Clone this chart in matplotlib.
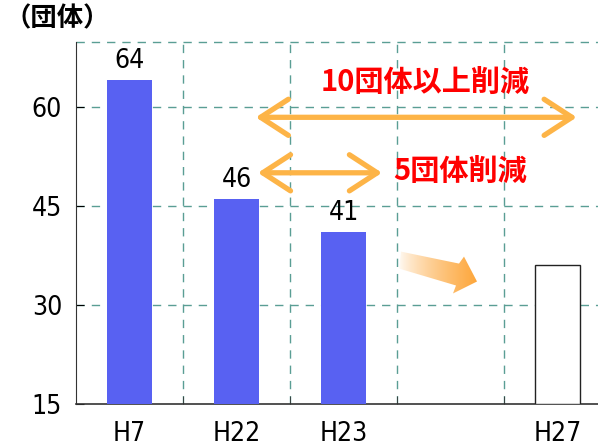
import numpy as np
import matplotlib
matplotlib.use("Agg")
import matplotlib.pyplot as plt
from matplotlib.patches import Polygon, FancyArrowPatch

plt.rcParams['font.family'] = ['DejaVu Sans']
plt.rcParams['font.stretch'] = 'condensed'

categories = ["H7", "H22", "H23", "", "H27"]
counts = [64, 46, 41, None, 36]
shown_labels = [64, 46, 41]
y_ticks = [15, 30, 45, 60]

grid_c = "#5a9e94"
bar_c = "#5861f2"
arrow_c = "#fdb447"

fig = plt.figure(figsize=(5.98, 4.48), dpi=100)
ax = fig.add_axes([76/598, 44/448, 535/598, 362/448])
ax.set_xlim(-0.5, 4.5)
ax.set_ylim(15, 69.8)

x = np.arange(len(categories))
for i, v in enumerate(counts):
    if v is None:
        continue
    if i < 3:
        ax.bar(i, v - 15, bottom=15, width=0.42, color=bar_c, zorder=3)
    else:
        ax.bar(i, v - 15, bottom=15, width=0.42, facecolor="white",
               edgecolor="#222222", linewidth=1.0, zorder=3)

for i, v in enumerate(shown_labels):
    ax.text(i, v + 0.9, str(v), ha="center", va="bottom", fontsize=19)

# grid
for b in np.arange(0.5, 4.5, 1.0):
    ax.axvline(b, color=grid_c, lw=1, ls=(0, (6, 5)), zorder=1)
for t in y_ticks[1:]:
    ax.axhline(t, color=grid_c, lw=1, ls=(0, (6, 5)), zorder=1)
ax.axhline(69.8, color=grid_c, lw=1, ls=(0, (6, 5)), zorder=1, clip_on=False)

for s in ["top", "right"]:
    ax.spines[s].set_visible(False)
ax.spines["left"].set_color("#333333")
ax.spines["bottom"].set_color("#333333")
ax.spines["bottom"].set_linewidth(1.2)

ax.set_yticks(y_ticks)
ax.set_yticklabels([str(t) for t in y_ticks], fontsize=19)
ax.tick_params(axis="y", direction="in", length=6, pad=10)
ax.set_xticks(x)
ax.set_xticklabels(categories, fontsize=19)
ax.tick_params(axis="x", length=0, pad=12)
ax.set_xticks(np.arange(0.5, 4.5, 1.0), minor=True)
ax.tick_params(axis="x", which="minor", direction="in", length=6, color="#333333")

fig.text(4/598, 1 - 19/448, "（団体）", fontsize=19, fontweight="bold",
         va="center", ha="left", family=["Noto Sans CJK JP"])

# double-headed arrows
def darrow(x0, x1, y):
    ax.add_patch(FancyArrowPatch((x0, y), (x1, y),
                                 arrowstyle="<->,head_length=1.0,head_width=0.65",
                                 color=arrow_c, lw=3.8, mutation_scale=20,
                                 shrinkA=0, shrinkB=0, zorder=4))

darrow(1.18, 4.18, 58.4)
darrow(1.20, 2.36, 50.0)

ax.text(2.76, 63.8, "10団体以上削減", color="#ff0000", fontsize=21, fontweight="bold",
        ha="center", va="center", family=["Noto Sans CJK JP"])
ax.text(3.09, 50.3, "5団体削減", color="#ff0000", fontsize=21, fontweight="bold",
        ha="center", va="center", family=["Noto Sans CJK JP"])

# gradient arrow pointing to projection
def px(p):
    return ((p[0] - 76) / 107 - 0.5, 15 + (404 - p[1]) / 6.633)

pts = [(401, 251), (459, 263), (464, 256), (477, 281), (453, 293), (456, 285), (399, 268)]
poly = Polygon([px(p) for p in pts], closed=True, facecolor="none", edgecolor="none")
ax.add_patch(poly)
grad = np.linspace(0, 1, 256) ** 0.7
grad = grad.reshape(1, -1)
cmap = matplotlib.colors.LinearSegmentedColormap.from_list("fade", ["#ffffff", "#fda63a"])
x0, y0 = px((398, 294))
x1, y1 = px((478, 250))
im = ax.imshow(grad, extent=[x0, x1, y0, y1], cmap=cmap, aspect="auto", zorder=4)
im.set_clip_path(poly)
ax.set_xlim(-0.5, 4.5)
ax.set_ylim(15, 69.8)

fig.savefig("out.png", dpi=100)
